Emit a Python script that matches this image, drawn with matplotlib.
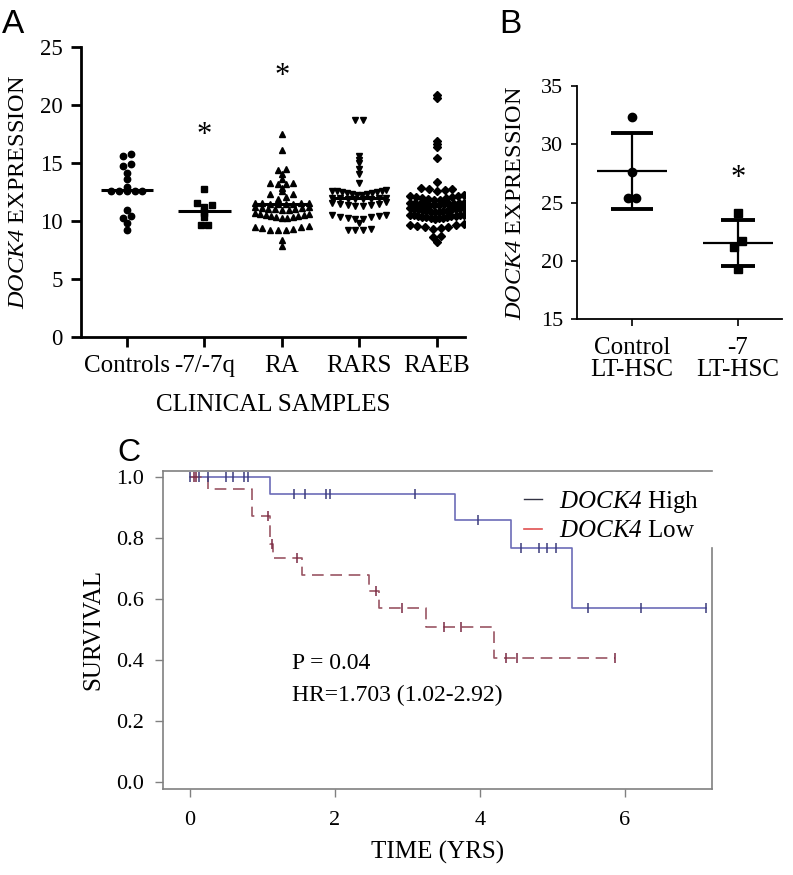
import numpy as np
import matplotlib
matplotlib.use("Agg")
import matplotlib.pyplot as plt
from matplotlib.lines import Line2D

plt.rcParams["font.family"] = ["Liberation Serif", "DejaVu Serif"]
plt.rcParams["mathtext.fontset"] = "custom"
plt.rcParams["mathtext.rm"] = "Liberation Serif"
plt.rcParams["mathtext.sf"] = "Liberation Serif:italic"

# ---- panel A: DOCK4 expression in clinical samples ----
groups_a = ["Controls", "-7/-7q", "RA", "RARS", "RAEB"]
controls = [15.8, 15.6, 14.9, 14.7, 14.1, 13.65, 12.95, 12.6, 12.6, 12.6, 12.6, 12.6,
            10.95, 10.4, 10.25, 9.85, 9.2]
minus7q = [12.73, 11.58, 11.38, 11.24, 10.9, 10.66, 10.3, 9.65, 9.65]
ra = [17.5, 16.1, 14.5, 14.37, 14.05, 13.6, 13.3, 13.3, 13.2, 13.15, 12.87, 12.6,
      12.3, 12.3, 12.1, 11.9,
      11.45, 11.47, 11.5, 11.5, 11.52, 11.55, 11.56, 11.58,
      10.95, 10.97, 11.0, 11.03, 11.06, 11.1, 11.13, 11.17, 11.2,
      10.25, 10.28, 10.3, 10.35, 10.4, 10.45, 10.5, 10.55, 10.6, 10.62, 10.65,
      9.2, 9.22, 9.25, 9.3, 9.38, 9.45, 9.52, 9.6,
      8.35, 7.85]
rars = [18.7, 18.7, 15.6, 15.26, 15.03, 14.5, 14.05, 13.25,
        12.25, 12.28, 12.32, 12.36, 12.4, 12.44, 12.48, 12.52, 12.56, 12.6, 12.62, 12.65,
        11.88, 11.9, 11.92, 11.93, 11.95, 11.96, 11.97, 11.98,
        11.25, 11.3, 11.35, 11.4, 11.45, 11.5, 11.55, 11.6,
        10.15, 10.2, 10.25, 10.3, 10.38, 10.45, 10.5, 10.55,
        9.8, 9.22, 9.25, 9.25, 9.28]
raeb = [20.86, 20.58, 16.9, 16.64, 16.35, 15.46, 13.4,
        12.62, 12.68, 12.72, 12.78, 12.8,
        11.8, 11.85, 11.9, 11.95, 12.0, 12.05, 12.1, 12.13, 12.17, 12.2,
        11.4, 11.41, 11.42, 11.43, 11.45, 11.46, 11.48, 11.5, 11.51, 11.52, 11.54, 11.55,
        10.75, 10.78, 10.81, 10.84, 10.87, 10.9, 10.93, 10.96, 10.99, 11.02, 11.05, 11.08, 11.12, 11.15,
        10.2, 10.22, 10.25, 10.28, 10.31, 10.34, 10.37, 10.4, 10.43, 10.46, 10.49, 10.51, 10.53, 10.55,
        9.35, 9.4, 9.45, 9.5, 9.55, 9.62, 9.68, 9.75,
        8.7, 8.6, 8.2]
medians_a = [12.67, 10.9, 11.43, 11.95, 11.4]

# ---- panel B: LT-HSC ----
groups_b = ["Control\nLT-HSC", "-7\nLT-HSC"]
control_hsc = [32.3, 27.6, 25.4, 25.4]
minus7_hsc = [24.07, 21.72, 21.15, 19.27]

# ---- panel C: Kaplan-Meier survival ----
high_t = [0, 1.10, 3.66, 4.43, 5.27, 7.12]
high_s = [1.0, 0.944, 0.859, 0.767, 0.57, 0.57]
high_cens = [0.0, 0.12, 0.25, 0.5, 0.59, 0.74, 0.8, 1.43, 1.59, 1.88, 1.93, 3.10, 3.97,
             4.57, 4.81, 4.92, 5.05, 5.49, 6.22, 7.12]
low_t = [0, 0.25, 0.85, 1.11, 1.15, 1.55, 2.47, 2.61, 3.26, 4.19, 5.86]
low_s = [1.0, 0.96, 0.872, 0.78, 0.733, 0.68, 0.626, 0.57, 0.508, 0.407, 0.407]
low_cens = [0.05, 0.09, 1.08, 1.13, 1.47, 2.57, 2.92, 3.50, 3.74, 4.36, 4.51, 5.86]

GENE = r"$\mathsf{DOCK4}$"


def swarm(vals, step=0.1, max_w=0.7, gap=0.22, span=0.45):
    # Prism-like rows: lowest value of each row in the middle, spread outwards
    vals = np.asarray(vals, float)
    order = np.argsort(vals, kind="stable")
    offs = np.zeros(len(vals))
    rows, cur = [], [order[0]]
    for i in order[1:]:
        if vals[i] - vals[cur[-1]] > gap or vals[i] - vals[cur[0]] > span:
            rows.append(cur)
            cur = [i]
        else:
            cur.append(i)
    rows.append(cur)
    for r in rows:
        n = len(r)
        d = step if n == 1 else min(step, max_w / (n - 1))
        slots = np.array([(k + 1) // 2 * (1 if k % 2 else -1) for k in range(n)], float)
        if n % 2 == 0:
            slots -= 0.5
        offs[r] = slots * d
    return offs


def step_value(t, s, c):
    idx = np.searchsorted(t, c, side="right") - 1
    return np.asarray(s)[np.clip(idx, 0, len(s) - 1)]


fig = plt.figure(figsize=(7.93, 8.75), dpi=100)

# ================= A =================
ax = fig.add_axes([0.102, 0.6149, 0.484, 0.3314])
data_a = [controls, minus7q, ra, rars, raeb]
markers = [("o", 4.6), ("s", 4.6), ("^", 5.0), ("v", 5.0), ("D", 4.0)]
for i, vals in enumerate(data_a):
    x = i + swarm(vals)
    ax.plot(x, vals, ls="none", marker=markers[i][0], ms=markers[i][1],
            color="black", mec="black")
    ax.hlines(medians_a[i], i - 0.34, i + 0.34, color="black", lw=2.2)
ax.text(1, 17.35, "*", ha="center", va="center", fontsize=22)
ax.text(2, 22.45, "*", ha="center", va="center", fontsize=22)
ax.set_xlim(-0.594, 4.36)
ax.set_ylim(0, 25)
ax.set_yticks([0, 5, 10, 15, 20, 25])
ax.set_xticks(range(5))
ax.set_xticklabels(groups_a, fontsize=18)
ax.tick_params(axis="y", labelsize=16.5, width=2, length=7, pad=6)
ax.tick_params(axis="x", width=2, length=7, pad=6)
for sp in ["top", "right"]:
    ax.spines[sp].set_visible(False)
for sp in ["left", "bottom"]:
    ax.spines[sp].set_linewidth(2)
ax.set_xlabel("CLINICAL SAMPLES", fontsize=18, labelpad=12)
ax.set_ylabel(GENE + " EXPRESSION", fontsize=17.5, labelpad=8)

# ================= B =================
bx = fig.add_axes([0.7276, 0.6354, 0.2585, 0.2663])
data_b = [control_hsc, minus7_hsc]
mk_b = ["o", "s"]
caps = [0.2, 0.165]
for i, vals in enumerate(data_b):
    x = i + swarm(vals, step=0.08, gap=0.6, span=0.7)
    bx.plot(x, vals, ls="none", marker=mk_b[i], ms=6, color="black")
    m = np.mean(vals)
    sd = np.std(vals, ddof=1)
    bx.hlines(m, i - 0.33, i + 0.33, color="black", lw=1.6)
    bx.vlines(i, m - sd, m + sd, color="black", lw=1.6)
    bx.hlines([m - sd, m + sd], i - caps[i], i + caps[i], color="black", lw=2.8)
bx.text(1, 27.1, "*", ha="center", va="center", fontsize=22)
bx.set_xlim(-0.519, 1.415)
bx.set_ylim(15, 35)
bx.set_yticks([15, 20, 25, 30, 35])
bx.set_xticks([0, 1])
bx.set_xticklabels(groups_b, fontsize=18, linespacing=1.0)
bx.tick_params(axis="y", labelsize=16, width=1.2, length=4, pad=6)
bx.tick_params(axis="x", width=1.2, length=5, pad=8)
for sp in ["top", "right"]:
    bx.spines[sp].set_visible(False)
for sp in ["left", "bottom"]:
    bx.spines[sp].set_linewidth(1.3)
bx.set_ylabel(GENE + " EXPRESSION", fontsize=17.5, labelpad=11)

# ================= C =================
cx = fig.add_axes([0.2055, 0.0983, 0.6923, 0.3634])
blue, blue_mk = "#6c6cb8", "#3c3c7c"
red, red_mk = "#9a5563", "#7a2a44"
cx.step(high_t, high_s, where="post", color=blue, lw=1.2, zorder=3)
cx.step(low_t, low_s, where="post", color=red, lw=1.2, ls=(0, (7, 4)), zorder=3)
cx.plot(high_cens, step_value(high_t, high_s, high_cens), ls="none", marker="|",
        ms=7, mew=1.1, color=blue_mk, zorder=3)
cx.plot(low_cens, step_value(low_t, low_s, low_cens), ls="none", marker="|",
        ms=7, mew=1.1, color=red_mk, zorder=3)
cx.text(1.41, 0.39, "P = 0.04", fontsize=17, va="center")
cx.text(1.41, 0.285, "HR=1.703 (1.02-2.92)", fontsize=17, va="center")
handles = [Line2D([], [], color="#333344", lw=1),
           Line2D([], [], color="#e05050", lw=1.2)]
leg = cx.legend(handles, [GENE + " High", GENE + " Low"],
                loc="upper left", bbox_to_anchor=(0.64, 0.975), fontsize=18,
                handlelength=0.7, handletextpad=0.7, labelspacing=0.2,
                frameon=False, borderpad=0.4, borderaxespad=0)
cx.set_xlim(-0.372, 7.2)
cx.set_ylim(-0.023, 1.0197)
cx.set_xticks([0, 2, 4, 6])
cx.set_yticks([0.0, 0.2, 0.4, 0.6, 0.8, 1.0])
cx.set_yticklabels(["0.0", "0.2", "0.4", "0.6", "0.8", "1.0"])
cx.tick_params(labelsize=16, color="#808080", width=1, length=6)
cx.tick_params(axis="x", pad=10)
cx.tick_params(axis="y", pad=8)
for sp in cx.spines.values():
    sp.set_color("#808080")
    sp.set_linewidth(1.2)
# right spine only runs below the legend, as in the original
cx.spines["right"].set_bounds(-0.023, 0.767)
cx.set_xlabel("TIME (YRS)", fontsize=18, labelpad=8)
cx.set_ylabel("SURVIVAL", fontsize=18, labelpad=8)

# panel letters
fig.text(0.003, 0.99, "A", fontsize=24, family="Liberation Sans", va="top")
fig.text(0.629, 0.99, "B", fontsize=24, family="Liberation Sans", va="top")
fig.text(0.148, 0.4995, "C", fontsize=23, family="Liberation Sans", va="top")

fig.savefig("out.png", dpi=100)
